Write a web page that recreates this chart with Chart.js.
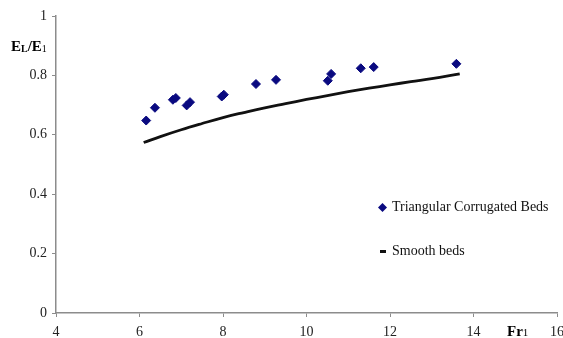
<!DOCTYPE html>
<html>
<head>
<meta charset="utf-8">
<script src="https://cdn.jsdelivr.net/npm/chart.js@4.4.0/dist/chart.umd.min.js"></script>
<style>
  html, body { margin:0; padding:0; background:#fff; }
  #wrap { width:563px; height:338px; }
</style>
</head>
<body>
<div id="wrap"><canvas id="c" width="563" height="338"></canvas></div>
<script>
// Triangular corrugated beds (measured points)
const corrFr = [6.16, 6.37, 6.80, 6.87, 7.13, 7.21, 7.97, 8.02, 8.79, 9.27, 10.51, 10.59, 11.30, 11.61, 13.59];
const corrRatio = [0.648, 0.691, 0.718, 0.724, 0.699, 0.710, 0.729, 0.735, 0.771, 0.785, 0.782, 0.805, 0.824, 0.828, 0.839];

// Smooth beds curve
const smoothFr = [6.1, 6.5, 7.0, 7.5, 8.0, 8.5, 9.0, 9.5, 10.0, 10.5, 11.0, 11.5, 12.0, 12.5, 13.0, 13.67];
const smoothRatio = [0.574, 0.594, 0.617, 0.638, 0.658, 0.675, 0.691, 0.705, 0.719, 0.732, 0.745, 0.757, 0.768, 0.779, 0.789, 0.805];

const xTicks = [4, 6, 8, 10, 12, 14, 16];
const yTicks = [0, 0.2, 0.4, 0.6, 0.8, 1];

const serif = "'Liberation Serif', 'Times New Roman', serif";
const axisGrey = "#8c8c8c";

// legend + axis titles drawn by hand (Excel-style placement)
const extras = {
  id: "extras",
  afterDraw(chart){
    const ctx = chart.ctx;
    ctx.save();
    ctx.fillStyle = "#000";
    ctx.textBaseline = "middle";

    // y title: EL/E1
    let x = 11, y = 47;
    ctx.font = "bold 15px " + serif; ctx.fillText("E", x, y); x += ctx.measureText("E").width;
    ctx.font = "bold 10px " + serif; ctx.fillText("L", x, y + 2); x += ctx.measureText("L").width;
    ctx.font = "bold 15px " + serif; ctx.fillText("/E", x, y); x += ctx.measureText("/E").width;
    ctx.font = "10px " + serif; ctx.fillText("1", x, y + 2);

    // x title: Fr1
    x = 507; y = 332;
    ctx.font = "bold 15px " + serif; ctx.fillText("Fr", x, y); x += ctx.measureText("Fr").width;
    ctx.font = "11px " + serif; ctx.fillText("1", x, y + 1);

    // legend
    const ds = chart.data.datasets;
    ctx.font = "14px " + serif;
    // diamond
    const dx = 382.5, dy = 207.5, r = 4.5;
    ctx.fillStyle = ds[0].backgroundColor;
    ctx.beginPath();
    ctx.moveTo(dx, dy - r); ctx.lineTo(dx + r, dy); ctx.lineTo(dx, dy + r); ctx.lineTo(dx - r, dy);
    ctx.closePath(); ctx.fill();
    ctx.fillStyle = "#111";
    ctx.fillText(ds[0].label, 392, dy);
    // dash
    ctx.fillStyle = ds[1].borderColor;
    ctx.fillRect(380, 250, 6, 3);
    ctx.fillStyle = "#111";
    ctx.fillText(ds[1].label, 392, 251.5);
    ctx.restore();
  }
};

new Chart(document.getElementById("c"), {
  type: "scatter",
  data: {
    datasets: [
      {
        label: "Triangular Corrugated Beds",
        data: corrFr.map((v, i) => ({ x: v, y: corrRatio[i] })),
        backgroundColor: "#0a0a80",
        borderColor: "#0a0a80",
        pointStyle: "rectRot",
        pointRadius: 4.5,
        showLine: false
      },
      {
        label: "Smooth beds",
        data: smoothFr.map((v, i) => ({ x: v, y: smoothRatio[i] })),
        borderColor: "#111",
        backgroundColor: "#111",
        borderWidth: 2.8,
        pointRadius: 0,
        showLine: true,
        tension: 0.4
      }
    ]
  },
  options: {
    responsive: false,
    animation: false,
    layout: { padding: { top: 16, right: 6, left: 0, bottom: 0 } },
    plugins: { legend: { display: false }, tooltip: { enabled: false } },
    scales: {
      x: {
        type: "linear",
        min: 4, max: 16,
        afterBuildTicks: s => { s.ticks = xTicks.map(v => ({ value: v })); },
        afterFit: s => { s.height = 25; s.paddingLeft = 0; s.paddingRight = 0; },
        grid: { display: true, drawOnChartArea: false, drawTicks: true, tickLength: 4, color: axisGrey },
        border: { display: true, color: axisGrey, width: 1.5 },
        ticks: { font: { family: serif, size: 14 }, color: "#222", padding: 7, maxRotation: 0 }
      },
      y: {
        min: 0, max: 1,
        afterBuildTicks: s => { s.ticks = yTicks.map(v => ({ value: v })); },
        afterFit: s => { s.width = 56; },
        grid: { display: true, drawOnChartArea: false, drawTicks: true, tickLength: 4, color: axisGrey },
        border: { display: true, color: axisGrey, width: 1.5 },
        ticks: { font: { family: serif, size: 14 }, color: "#222", padding: 5,
                 callback: v => String(v) }
      }
    }
  },
  plugins: [extras]
});
</script>
</body>
</html>
